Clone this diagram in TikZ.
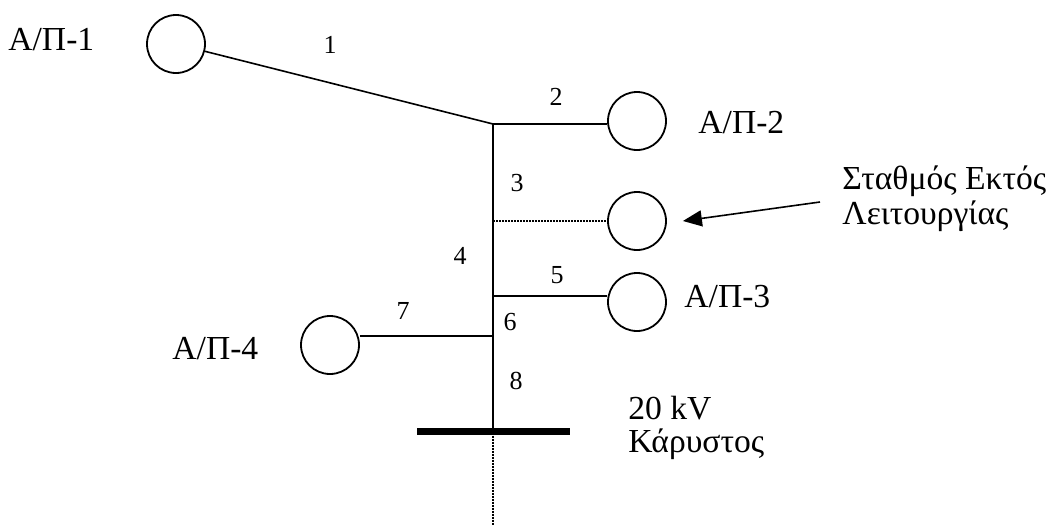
\documentclass[tikz,border=0pt]{standalone}
\usepackage{fontspec}
\setmainfont{Liberation Serif}
\usetikzlibrary{arrows.meta,calc}
\begin{document}
\begin{tikzpicture}[x=0.5pt,y=-0.5pt,
  station/.style={draw,circle,line width=0.9pt,minimum size=29pt,inner sep=0pt},
  feeder/.style={line width=0.8pt},
  offline/.style={line width=1pt,dash pattern=on 0.9pt off 0.6pt},
  busbar/.style={fill=black,minimum width=76.5pt,minimum height=3.8pt,inner sep=0pt},
  bigtext/.style={font=\fontsize{16.8}{18}\selectfont,inner sep=0pt,anchor=base west},
  seglabel/.style={font=\fontsize{13}{15}\selectfont,inner sep=0pt},
  pointer/.style={line width=0.8pt,-{Triangle[length=9.5pt,width=8pt]}}]
\useasboundingbox (0,0) rectangle (1057,525);
% stations
\node[station] (c1) at (176,44) {};
\node[station] (c2) at (637,121) {};
\node[station] (c3) at (637,221) {};
\node[station] (c4) at (637,302) {};
\node[station] (c5) at (330,345) {};
% bus bar
\node[busbar] (bus) at (493,431.5) {};
% junctions
\coordinate (j1) at (493,124);
\coordinate (j3) at (493,221);
\coordinate (j5) at (493,296);
\coordinate (j7) at (493,336);
\coordinate (bot) at (493,525);
\coordinate (astart) at (820,202);
\coordinate (atip) at ($(c3.east)+(16,0)$);
% connectors
\draw[feeder] (c1) -- (j1);
\draw[feeder] (j1) -- (j1 -| c2.west);
\draw[offline] (j3) -- (c3.west);
\draw[feeder] (j5) -- (j5 -| c4.west);
\draw[feeder] (j7) -- (j7 -| c5.east);
\draw[feeder] (j1) -- (bus.center);
\draw[offline] (bus.south) -- (bot);
\draw[pointer] (astart) -- (atip);
% texts
\node[bigtext] (t1) at (8,50) {Α/Π-1};
\node[bigtext] (t2) at (698,133) {Α/Π-2};
\node[bigtext] (t3a) at (842,189) {Σταθμός Εκτός};
\node[bigtext] (t3b) at (842,224) {Λειτουργίας};
\node[bigtext] (t4) at (684,307) {Α/Π-3};
\node[bigtext] (t5) at (172,359) {Α/Π-4};
\node[bigtext] (t6a) at (628,419) {20 kV};
\node[bigtext] (t6b) at (628,452) {Κάρυστος};
% segment labels
\node[seglabel] (l1) at (330,45) {1};
\node[seglabel] (l2) at (556,97) {2};
\node[seglabel] (l3) at (517,183) {3};
\node[seglabel] (l4) at (460,256) {4};
\node[seglabel] (l5) at (557,275) {5};
\node[seglabel] (l6) at (510,322) {6};
\node[seglabel] (l7) at (403,311) {7};
\node[seglabel] (l8) at (516,381) {8};
\end{tikzpicture}
\end{document}
